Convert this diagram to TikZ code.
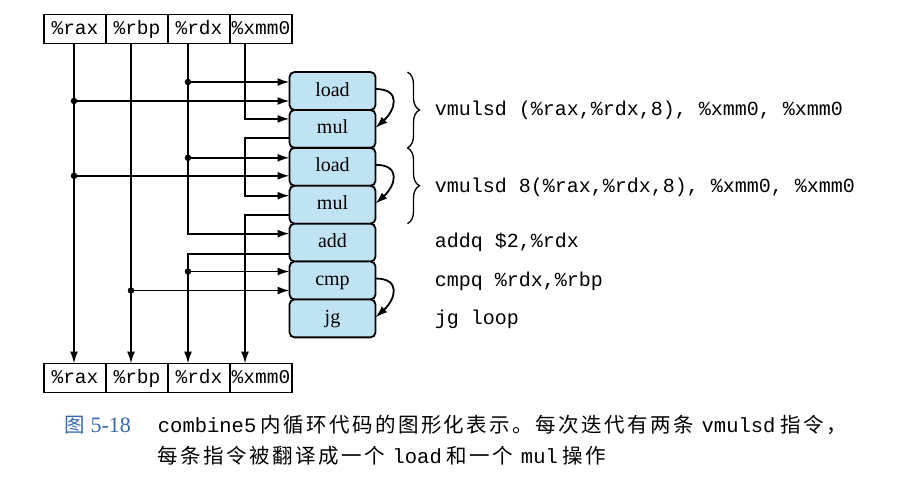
\documentclass[tikz,border=0pt]{standalone}
\usepackage{fontspec}
\setmainfont{Liberation Serif}
\setmonofont{Liberation Mono}
\newfontfamily\cjk[LetterSpace=12]{Noto Sans CJK SC}
\usetikzlibrary{positioning,arrows.meta,decorations.pathreplacing}

\definecolor{opblue}{RGB}{192,227,243}
\definecolor{figblue}{RGB}{55,105,175}

\tikzset{
  reg/.style={draw,outer sep=0pt,inner sep=0pt,minimum width=62pt,minimum height=29pt,text height=13pt,text depth=3pt,font=\ttfamily\fontsize{19.5}{19}\selectfont},
  op/.style={draw,outer sep=0pt,inner sep=0pt,rounded corners=5pt,fill=opblue,minimum width=86pt,minimum height=37.9pt,text height=13pt,text depth=3pt,font=\fontsize{20}{20}\selectfont},
  dot/.style={circle,fill,inner sep=0pt,minimum size=6.5pt},
  code/.style={anchor=west,inner sep=0pt,font=\ttfamily\fontsize{20}{20}\selectfont},
  caption/.style={anchor=west,inner sep=0pt,font=\fontsize{20.5}{21}\selectfont}
}

\begin{document}
\begin{tikzpicture}[x=1pt,y=-1pt,>={Latex[length=12pt,width=8pt]},line width=1.8pt]
  \useasboundingbox (0,0) rectangle (907,479);

  % registers before and after the loop
  \node[reg] (rax) at (75,29) {\%rax};
  \node[reg,right=0pt of rax] (rbp) {\%rbp};
  \node[reg,right=0pt of rbp] (rdx) {\%rdx};
  \node[reg,right=0pt of rdx] (xmm) {\%xmm0};
  \node[reg] (raxb) at (75,378) {\%rax};
  \node[reg,right=0pt of raxb] (rbpb) {\%rbp};
  \node[reg,right=0pt of rbpb] (rdxb) {\%rdx};
  \node[reg,right=0pt of rdxb] (xmmb) {\%xmm0};

  % operations
  \node[op] (load1) at (332.5,91) {load};
  \node[op,below=0pt of load1] (mul1) {mul};
  \node[op,below=0pt of mul1] (load2) {load};
  \node[op,below=0pt of load2] (mul2) {mul};
  \node[op,below=0pt of mul2] (add) {add};
  \node[op,below=0pt of add] (cmp) {cmp};
  \node[op,below=0pt of cmp] (jg) {jg};

  % columns and ports
  \coordinate (crax) at ([xshift=-1pt]rax.south);
  \coordinate (crbp) at ([xshift=-6pt]rbp.south);
  \coordinate (crdx) at ([xshift=-11pt]rdx.south);
  \coordinate (cxmm) at ([xshift=-16pt]xmm.south);
  \foreach \o/\u/\d in {load1/9/-10,mul1/10/-9,load2/9/-9,mul2/9/-10,add/9/-11,cmp/9/-10}
    {\coordinate (\o-u) at ([yshift=\u pt]\o.west);
     \coordinate (\o-d) at ([yshift=\d pt]\o.west);}

  % %rax
  \draw[->] (crax) -- (crax |- raxb.north);
  \draw[->] (crax |- load1-d) node[dot]{} -- (load1-d);
  \draw[->] (crax |- load2-d) node[dot]{} -- (load2-d);
  % %rbp
  \draw[->] (crbp) -- (crbp |- rbpb.north);
  \draw[->] (crbp |- cmp-d) node[dot]{} -- (cmp-d);
  % %rdx
  \draw[->] (crdx) -- (crdx |- add-u) -- (add-u);
  \draw[->] (crdx |- load1-u) node[dot]{} -- (load1-u);
  \draw[->] (crdx |- load2-u) node[dot]{} -- (load2-u);
  \draw[->] (add-d) -- (crdx |- add-d) -- (crdx |- rdxb.north);
  \draw[->] (crdx |- cmp-u) node[dot]{} -- (cmp-u);
  % %xmm0
  \draw[->] (cxmm) -- (cxmm |- mul1-u) -- (mul1-u);
  \draw[->] (mul1-d) -- (cxmm |- mul1-d) -- (cxmm |- mul2-u) -- (mul2-u);
  \draw[->] (mul2-d) -- (cxmm |- mul2-d) -- (cxmm |- xmmb.north);

  % dependencies on the right
  \draw[->] ([yshift=2pt]load1.east) .. controls +(26,0) and +(20,-18) .. ([yshift=1pt]mul1.east);
  \draw[->] ([yshift=2pt]load2.east) .. controls +(26,0) and +(20,-18) .. ([yshift=1pt]mul2.east);
  \draw[->] ([yshift=2pt]cmp.east) .. controls +(26,0) and +(20,-18) .. ([yshift=1pt]jg.east);

  \draw[line width=1.3pt,decorate,decoration={brace,amplitude=12pt}] ([xshift=32pt]load1.north east) -- ([xshift=32pt]mul1.south east);
  \draw[line width=1.3pt,decorate,decoration={brace,amplitude=12pt}] ([xshift=32pt]load2.north east) -- ([xshift=32pt]mul2.south east);

  % assembly code
  \node[code] (i1) at (434,110) {vmulsd (\%rax,\%rdx,8), \%xmm0, \%xmm0};
  \node[code] (i2) at (434,187) {vmulsd 8(\%rax,\%rdx,8), \%xmm0, \%xmm0};
  \node[code] (i3) at (434,242) {addq \$2,\%rdx};
  \node[code] (i4) at (434,281) {cmpq \%rdx,\%rbp};
  \node[code] (i5) at (434,319) {jg loop};

  % caption
  \node[caption,text=figblue] (fig) at (64,425) {{\cjk 图} \fontsize{22}{22}\selectfont 5-18};
  \node[caption] (cap1) at (157,425) {\texttt{combine5}\hspace{4pt}{\cjk 内循环代码的图形化表示。每次迭代有两条} \texttt{vmulsd} {\cjk 指令，}};
  \node[caption] (cap2) at (157,456) {{\cjk 每条指令被翻译成一个} \texttt{load} {\cjk 和一个} \texttt{mul} {\cjk 操作}};
\end{tikzpicture}
\end{document}
